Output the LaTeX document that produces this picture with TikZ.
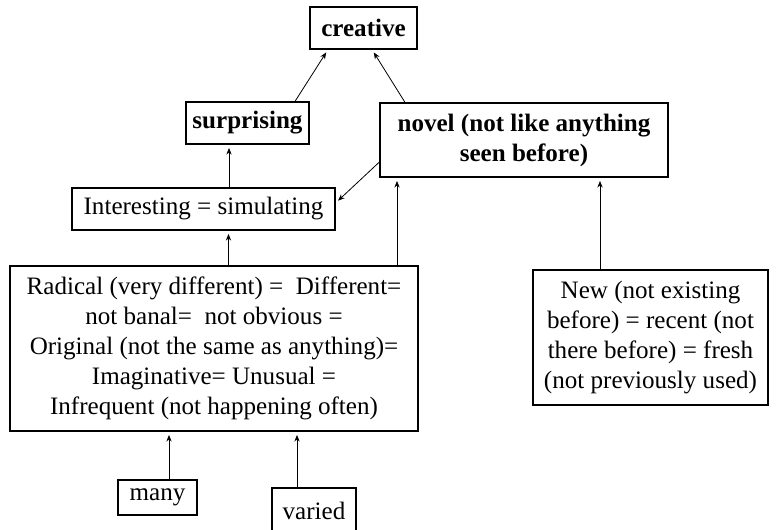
\documentclass[tikz,border=0pt]{standalone}
\usepackage{fontspec}
\setmainfont{Liberation Serif}
\usetikzlibrary{arrows.meta,positioning,calc}

\begin{document}
\begin{tikzpicture}[x=0.75pt, y=-0.75pt,
  box/.style={draw, line width=0.9pt, inner sep=0pt, align=center,
    font=\fontsize{18.8}{22.5}\selectfont},
  link/.style={-{Stealth[length=5pt,width=4pt]}, line width=0.6pt, shorten >=2.5pt}]
\useasboundingbox (0,0) rectangle (777,530);
\clip (0,0) rectangle (777,530);

% Boxes
\node[box, minimum width=80.25pt, minimum height=31.5pt] (creative) at (363.5,28) {\textbf{creative}};
\node[box, minimum width=92.25pt, minimum height=31.5pt] (surprising) at (247.5,123) {\textbf{surprising}};
\node[box, minimum width=216pt, minimum height=55.5pt] (novel) at (524,140)
  {\textbf{novel (not like anything}\\ \textbf{seen before)}};
\node[box, minimum width=197.25pt, minimum height=31.5pt] (interesting) at (203.5,209) {Interesting = simulating};
\node[box, minimum width=306pt, minimum height=123.75pt] (radical) at (214,348.5)
  {Radical (very different) = \ Different=\\ not banal= \ not obvious =\\
   Original (not the same as anything)=\\ Imaginative= Unusual =\\
   Infrequent (not happening often)};
\node[box, minimum width=176.25pt, minimum height=101.25pt] (new) at (650.5,337.5)
  {New (not existing\\ before) = recent (not\\ there before) = fresh\\ (not previously used)};
\node[box, minimum width=59.25pt, minimum height=26.25pt] (many) at (157.5,497.5) {many};
\node[box, minimum width=63pt, minimum height=34.5pt] (varied) at (314,511) {varied};

% Links to creative
\draw[link] ($(surprising.north)+(47.5,0)$) -- ($(creative.south)+(-35.5,0)$);
\draw[link] ($(novel.north)+(-119,0)$) -- ($(creative.south)+(8.5,0)$);

% Links into the middle row
\draw[link] ($(interesting.north)+(25.5,0)$) coordinate (p1) -- (p1 |- surprising.south);
\draw[link] ($(novel.west)+(0,22)$) -- ($(interesting.east)+(0,-6)$);
\draw[link] ($(radical.north)+(14.5,0)$) coordinate (p2) -- (p2 |- interesting.south);
\draw[link] ($(radical.north)+(183,0)$) coordinate (p3) -- (p3 |- novel.south);
\draw[link] ($(new.north)+(-50.5,0)$) coordinate (p4) -- (p4 |- novel.south);

% Links from the bottom
\draw[link] ($(many.north)+(11.5,0)$) coordinate (p5) -- (p5 |- radical.south);
\draw[link] ($(varied.north)+(-17,0)$) coordinate (p6) -- (p6 |- radical.south);
\end{tikzpicture}
\end{document}
